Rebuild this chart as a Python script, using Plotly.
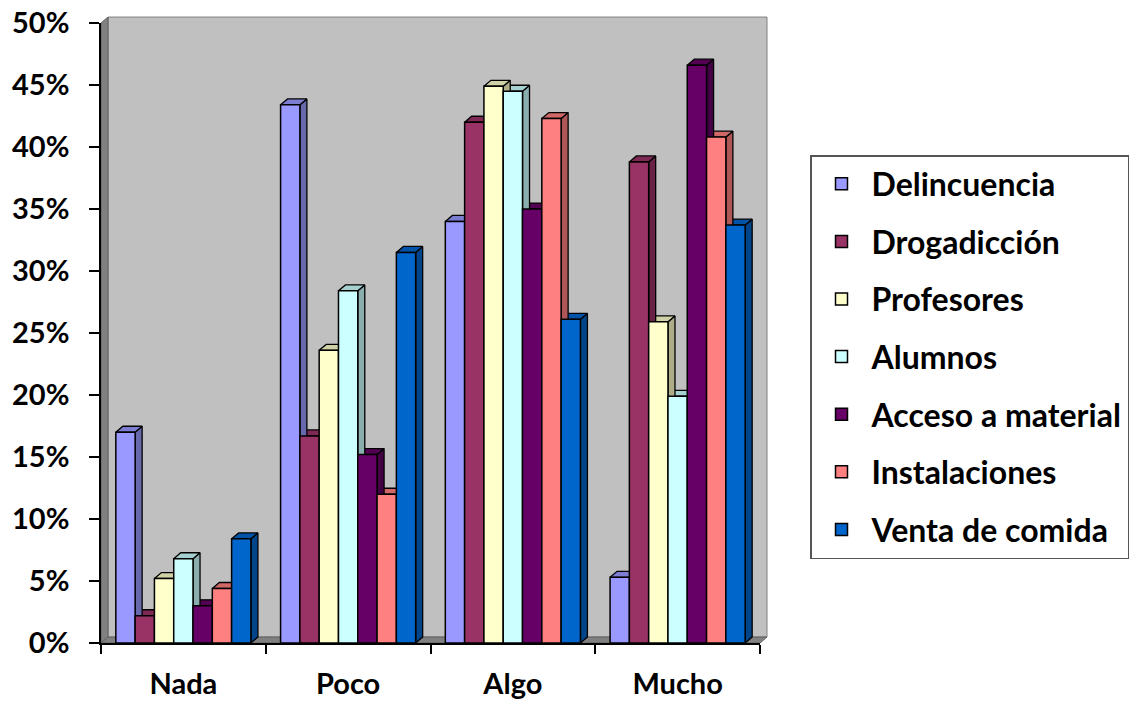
import plotly.graph_objects as go

categories = ["Nada", "Poco", "Algo", "Mucho"]
series_names = ["Delincuencia", "Drogadicción", "Profesores", "Alumnos",
                "Acceso a material", "Instalaciones", "Venta de comida"]
delincuencia = [17.0, 43.4, 34.0, 5.3]
drogadiccion = [2.2, 16.7, 42.0, 38.8]
profesores = [5.2, 23.6, 44.9, 25.9]
alumnos = [6.8, 28.4, 44.5, 19.9]
acceso = [3.0, 15.2, 35.0, 46.6]
instalaciones = [4.4, 12.0, 42.3, 40.8]
venta = [8.4, 31.5, 26.1, 33.7]
y_ticks = [0, 5, 10, 15, 20, 25, 30, 35, 40, 45, 50]

series_values = [delincuencia, drogadiccion, profesores, alumnos, acceso, instalaciones, venta]
front_colors = ["#9999FF", "#993366", "#FFFFCC", "#CCFFFF", "#660066", "#FF8080", "#0066CC"]


def shade(hexcol, f):
    h = hexcol.lstrip("#")
    r, g, b = (int(h[i:i + 2], 16) for i in (0, 2, 4))
    return "#%02x%02x%02x" % (int(r * f), int(g * f), int(b * f))


FONT = "Lato"
n_series = len(series_values)
group_frac = 0.82
w = group_frac / n_series
XMIN, XMAX = -0.5, len(categories) - 0.5
YMAX = 50
dx = 0.0425   # depth in category units
dy = 0.48     # depth in percent units

fig = go.Figure()

# 3D side and top faces (drawn right-to-left so occlusion is right)
for j in reversed(range(n_series)):
    vals = series_values[j]
    sx, sy, tx, ty = [], [], [], []
    for i, h in enumerate(vals):
        xc = i + (j - (n_series - 1) / 2) * w
        xl, xr = xc - w / 2, xc + w / 2
        sx += [xr, xr + dx, xr + dx, xr, xr, None]
        sy += [0, dy, h + dy, h, 0, None]
        tx += [xl, xr, xr + dx, xl + dx, xl, None]
        ty += [h, h, h + dy, h + dy, h, None]
    fig.add_trace(go.Scatter(x=sx, y=sy, mode="lines", fill="toself",
                             fillcolor=shade(front_colors[j], 0.68),
                             line=dict(color="black", width=1.3),
                             showlegend=False, hoverinfo="skip"))
    fig.add_trace(go.Scatter(x=tx, y=ty, mode="lines", fill="toself",
                             fillcolor=shade(front_colors[j], 0.82),
                             line=dict(color="black", width=1.3),
                             showlegend=False, hoverinfo="skip"))

# front faces as real bars on an overlaying axis pair (drawn above the faces)
for j in range(n_series):
    xs = [i + (j - (n_series - 1) / 2) * w for i in range(len(categories))]
    fig.add_trace(go.Bar(x=xs, y=series_values[j], width=w, name=series_names[j],
                         marker=dict(color=front_colors[j], line=dict(color="black", width=1.5)),
                         xaxis="x2", yaxis="y2", legendgroup=series_names[j],
                         customdata=categories,
                         hovertemplate="%{customdata}: %{y}%<extra>" + series_names[j] + "</extra>"))


def px(x):
    return (x - XMIN) / (XMAX - XMIN)


def py(y):
    return y / YMAX


shapes = [
    # back wall
    dict(type="rect", xref="paper", yref="paper",
         x0=px(XMIN + dx), x1=px(XMAX + dx), y0=py(dy), y1=py(YMAX + dy),
         fillcolor="#C0C0C0", line=dict(color="#808080", width=1), layer="below"),
    # left side wall
    dict(type="path", xref="paper", yref="paper",
         path=f"M{px(XMIN)},{py(0)} L{px(XMIN)},{py(YMAX)} L{px(XMIN + dx)},{py(YMAX + dy)} "
              f"L{px(XMIN + dx)},{py(dy)} Z",
         fillcolor="#808080", line=dict(color="#606060", width=1), layer="below"),
    # floor
    dict(type="path", xref="paper", yref="paper",
         path=f"M{px(XMIN)},{py(0)} L{px(XMAX)},{py(0)} L{px(XMAX + dx)},{py(dy)} "
              f"L{px(XMIN + dx)},{py(dy)} Z",
         fillcolor="#808080", line=dict(color="#606060", width=1), layer="below"),
]

axis_font = dict(family=FONT, size=29, color="black", weight="bold")

fig.update_layout(
    width=1143, height=701,
    margin=dict(l=101, r=383, t=23, b=58, autoexpand=False),
    paper_bgcolor="white", plot_bgcolor="rgba(0,0,0,0)",
    barmode="overlay",
    shapes=shapes,
    font=dict(family=FONT, color="black"),
    xaxis=dict(range=[XMIN, XMAX], tickmode="array", tickvals=list(range(len(categories))),
               ticktext=categories, ticks="", showgrid=False, zeroline=False,
               showline=True, linecolor="black", linewidth=1.5, automargin=False,
               tickfont=axis_font, ticklabelstandoff=14, ticklabeloverflow="allow",
               minor=dict(tickmode="array",
                          tickvals=[k - 0.5 for k in range(len(categories) + 1)],
                          ticks="outside", ticklen=9, tickcolor="black", tickwidth=1.5)),
    yaxis=dict(range=[0, YMAX], tickmode="array", tickvals=y_ticks,
               ticktext=[f"{v}%" for v in y_ticks], ticks="outside", ticklen=10,
               tickcolor="black", tickwidth=1.5, showgrid=False, zeroline=False,
               showline=True, linecolor="black", linewidth=1.5, automargin=False,
               tickfont=axis_font, ticklabelstandoff=14, ticklabeloverflow="allow"),
    xaxis2=dict(range=[XMIN, XMAX], overlaying="x", visible=False),
    yaxis2=dict(range=[0, YMAX], overlaying="y", visible=False),
    legend=dict(x=(810 - 101) / 659, xanchor="left", y=(643 - 155) / 620, yanchor="top",
                font=dict(family=FONT, size=32, color="black", weight="bold"),
                bordercolor="#555555", borderwidth=1.5, bgcolor="white",
                tracegroupgap=13, itemwidth=50, traceorder="grouped"),
)

# remove the default 8px page margin so the figure fills the window exactly
fig.write_html("out.html", config={"displayModeBar": False},
               post_script="document.body.style.margin='0';document.body.style.overflow='hidden';")
